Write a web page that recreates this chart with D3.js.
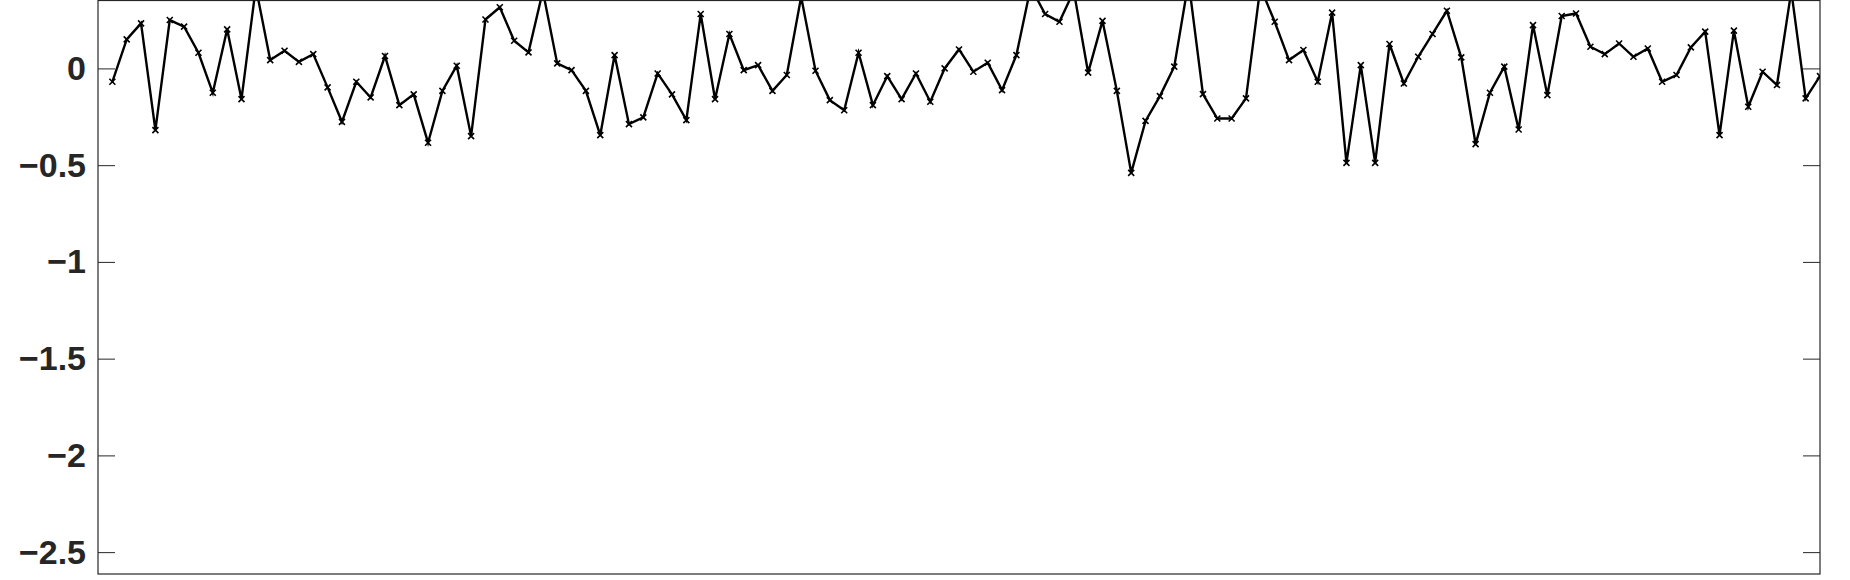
<!DOCTYPE html>
<html>
<head>
<meta charset="utf-8">
<script src="https://cdn.jsdelivr.net/npm/d3@7"></script>
<style>
  body { margin: 0; background: #fff; }
  .tick text { font-family: "Liberation Sans", Arial, sans-serif; font-weight: bold; font-size: 34px; fill: #262626; }
</style>
</head>
<body>
<svg id="chart"></svg>
<script>
const values = [
  -0.069, 0.15, 0.233, -0.319, 0.25, 0.216, 0.081, -0.126, 0.202, -0.159,
  0.42, 0.043, 0.091, 0.034, 0.074, -0.098, -0.276, -0.069, -0.15, 0.064,
  -0.19, -0.134, -0.384, -0.116, 0.014, -0.35, 0.253, 0.316, 0.143, 0.083,
  0.40, 0.026, -0.009, -0.116, -0.345, 0.069, -0.288, -0.253, -0.026, -0.134,
  -0.267, 0.281, -0.159, 0.178, -0.009, 0.017, -0.116, -0.034, 0.37, -0.012,
  -0.164, -0.216, 0.081, -0.19, -0.04, -0.159, -0.026, -0.172, 0, 0.098,
  -0.017, 0.029, -0.112, 0.069, 0.42, 0.281, 0.241, 0.40, -0.022, 0.246,
  -0.116, -0.54, -0.271, -0.143, 0.009, 0.45, -0.133, -0.259, -0.259, -0.155,
  0.42, 0.241, 0.043, 0.095, -0.069, 0.288, -0.488, 0.017, -0.488, 0.126,
  -0.078, 0.06, 0.178, 0.298, 0.057, -0.391, -0.126, 0.009, -0.316, 0.224,
  -0.138, 0.271, 0.284, 0.112, 0.074, 0.129, 0.06, 0.103, -0.069, -0.034,
  0.109, 0.19, -0.345, 0.195, -0.198, -0.017, -0.086, 0.40, -0.155, -0.04
];
const yTicks = [-2.5, -2, -1.5, -1, -0.5, 0];
const xDomain = [0, 120];
const yDomain = [-2.613, 0.351];

const W = 1850, H = 580;
const margin = { left: 98, right: 1820, top: 0.5, bottom: 574 };

const svg = d3.select("#chart").attr("width", W).attr("height", H);

const x = d3.scaleLinear().domain(xDomain).range([margin.left, margin.right]);
const y = d3.scaleLinear().domain(yDomain).range([margin.bottom, margin.top]);

svg.append("defs").append("clipPath").attr("id", "clip")
  .append("rect").attr("x", margin.left).attr("y", margin.top)
  .attr("width", margin.right - margin.left).attr("height", margin.bottom - margin.top);

// box
svg.append("rect")
  .attr("x", margin.left).attr("y", margin.top)
  .attr("width", margin.right - margin.left).attr("height", margin.bottom - margin.top)
  .attr("fill", "none").attr("stroke", "#262626").attr("stroke-width", 1.2);

svg.append("g")
  .attr("transform", `translate(${margin.left},0)`)
  .call(d3.axisLeft(y).tickValues(yTicks).tickFormat(d3.format("")).tickSize(-17).tickPadding(12))
  .call(g => g.select(".domain").remove())
  .call(g => g.selectAll(".tick line").attr("stroke", "#262626"));

svg.append("g")
  .attr("transform", `translate(${margin.right},0)`)
  .call(d3.axisRight(y).tickValues(yTicks).tickFormat("").tickSize(-17))
  .call(g => g.select(".domain").remove())
  .call(g => g.selectAll(".tick line").attr("stroke", "#262626"));

const pts = values.map((v, i) => ({ i: i + 1, v }));
const plot = svg.append("g").attr("clip-path", "url(#clip)");

plot.append("path")
  .datum(pts)
  .attr("fill", "none")
  .attr("stroke", "#000")
  .attr("stroke-width", 2.4)
  .attr("d", d3.line().x(d => x(d.i)).y(d => y(d.v)));

const m = 3;
plot.selectAll("path.mk")
  .data(pts)
  .enter()
  .append("path")
  .attr("class", "mk")
  .attr("d", d => {
    const cx = x(d.i), cy = y(d.v);
    return `M${cx - m},${cy - m}L${cx + m},${cy + m}M${cx - m},${cy + m}L${cx + m},${cy - m}`;
  })
  .attr("stroke", "#000")
  .attr("stroke-width", 1.6);
</script>
</body>
</html>
